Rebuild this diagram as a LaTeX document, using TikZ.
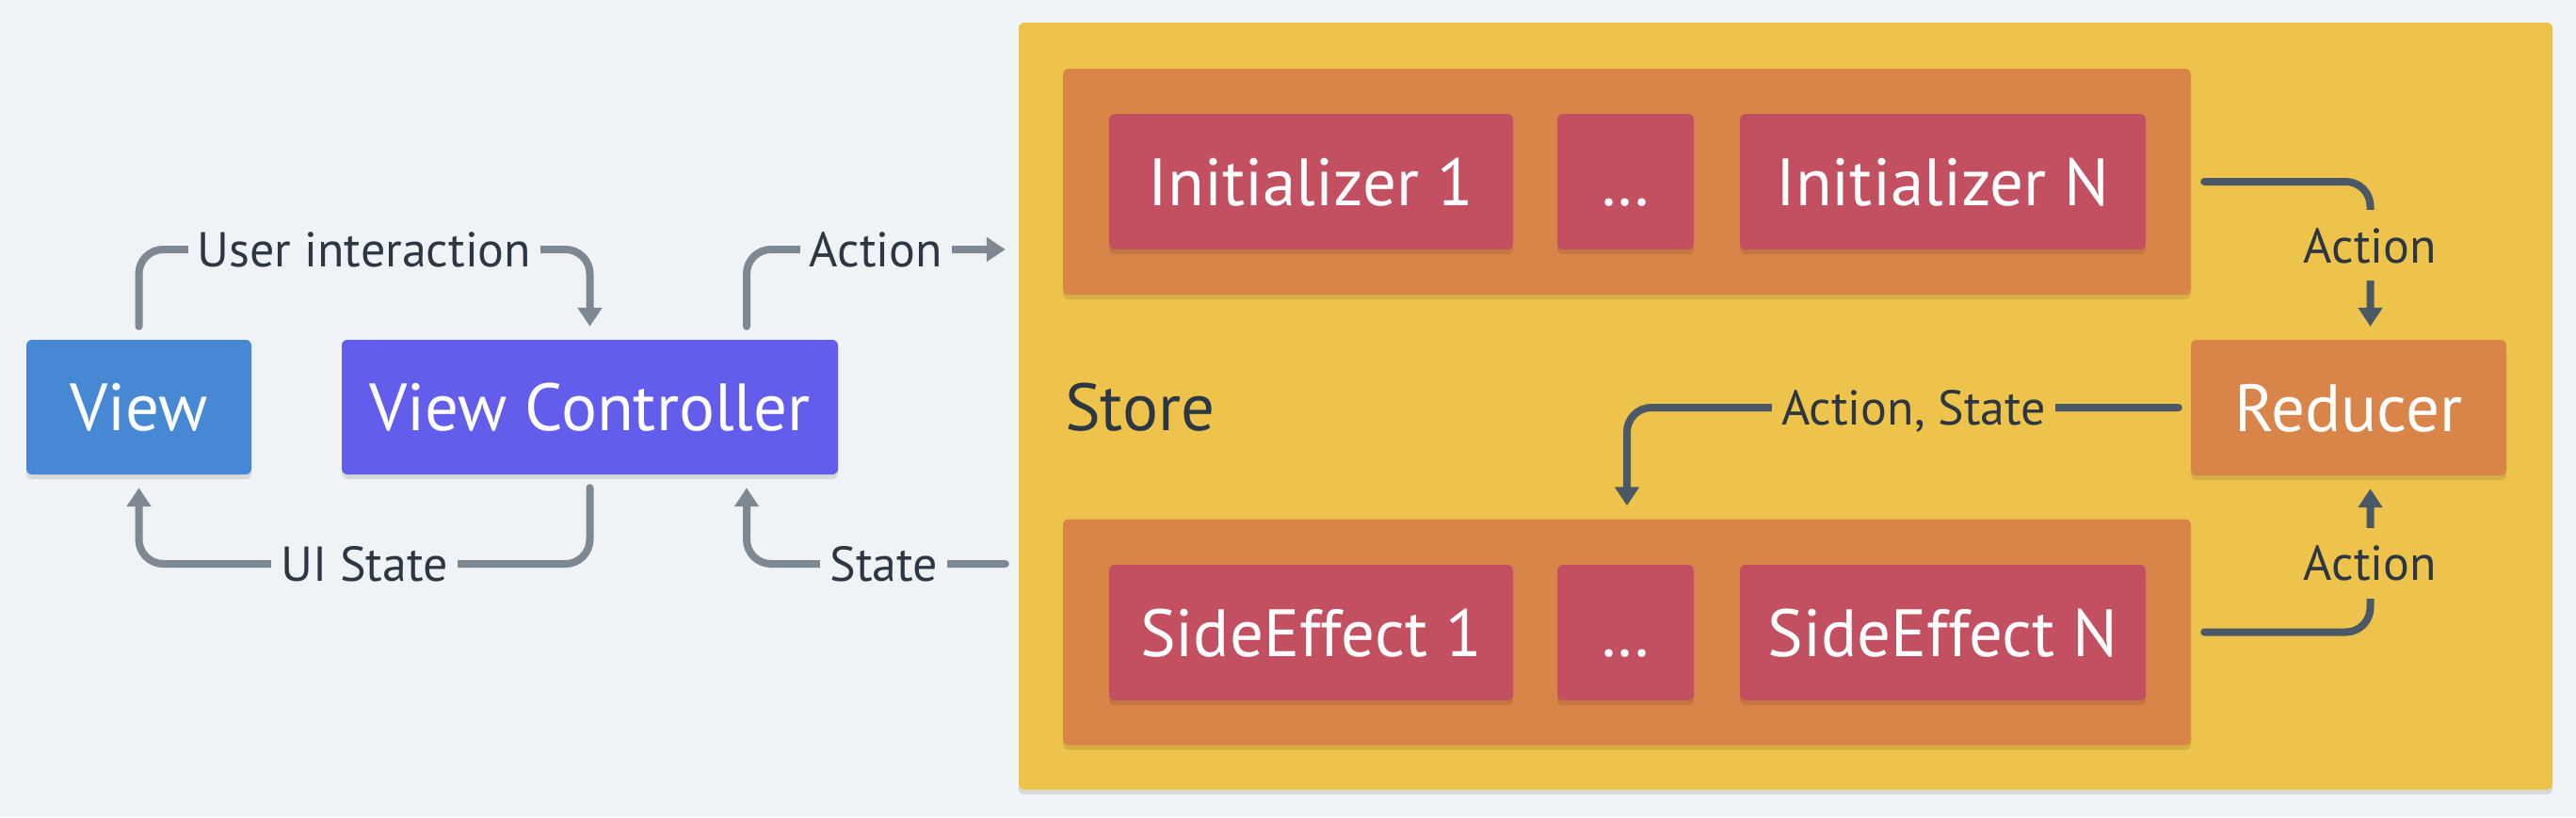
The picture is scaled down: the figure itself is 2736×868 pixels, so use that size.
\documentclass[tikz,border=0pt]{standalone}
\usepackage{fontspec}
\setmainfont{PT Sans}
\usetikzlibrary{arrows.meta,shadows,calc}
\definecolor{bg}{HTML}{EFF3F6}
\definecolor{viewblue}{HTML}{4688D4}
\definecolor{vcpurple}{HTML}{625DEB}
\definecolor{storeyellow}{HTML}{EEC34C}
\definecolor{grporange}{HTML}{D9854A}
\definecolor{boxred}{HTML}{C25060}
\definecolor{arrowgray}{HTML}{7E8893}
\definecolor{arrowdark}{HTML}{4B5966}
\definecolor{textdark}{HTML}{2D3743}
\begin{document}
\begin{tikzpicture}[x=1pt,y=-1pt,
  softshadow/.style={drop shadow={shadow xshift=0pt, shadow yshift=-5pt, opacity=0.10, fill=black}},
  box/.style={rounded corners=6pt, inner sep=0pt, text=white, softshadow,
    text height=50pt, text depth=0pt,
    font=\fontsize{71}{80}\selectfont},
  lbl/.style={font=\fontsize{52}{60}\selectfont, text=textdark, fill=bg,
    inner xsep=10pt, inner ysep=6pt, text height=37pt, text depth=0pt, rounded corners=0pt},
  lbly/.style={lbl, fill=storeyellow},
  vlbl/.style={lbl, fill=storeyellow, inner ysep=19pt},
  arrout/.style={draw=arrowgray, line width=8pt, line cap=round, rounded corners=26pt},
  arrin/.style={draw=arrowdark, line width=8pt, line cap=round, rounded corners=26pt},
  tip/.style={-{Triangle[length=20pt,width=25pt]}}
]
\fill[bg] (0,0) rectangle (2736,868);
\useasboundingbox (0,0) rectangle (2736,868);

% store
\node[box, fill=storeyellow, minimum width=1629pt, minimum height=815pt] (store) at (1896.5,431.5) {};
\node[box, fill=grporange, minimum width=1198pt, minimum height=240pt] (initgrp) at (1728,193) {};
\node[box, fill=grporange, minimum width=1198pt, minimum height=240pt] (segrp) at (1728,671.5) {};

\node[box, fill=boxred, minimum width=429pt, minimum height=144pt] (init1) at (1392.5,193) {Initializer 1};
\node[box, fill=boxred, minimum width=145pt, minimum height=144pt] (initdots) at (1726.5,193) {.\kern2pt.\kern2pt.};
\node[box, fill=boxred, minimum width=431pt, minimum height=144pt] (initN) at (2063.5,193) {Initializer N};

\node[box, fill=boxred, minimum width=429pt, minimum height=144pt] (se1) at (1392.5,672) {SideEffect 1};
\node[box, fill=boxred, minimum width=145pt, minimum height=144pt] (sedots) at (1726.5,672) {.\kern2pt.\kern2pt.};
\node[box, fill=boxred, minimum width=431pt, minimum height=144pt] (seN) at (2063.5,672) {SideEffect N};

\node[box, fill=grporange, minimum width=335pt, minimum height=144pt] (reducer) at (2494.5,433) {Reducer};
\node[anchor=west, inner sep=0pt, text=textdark, font=\fontsize{71}{80}\selectfont] (storelbl) at (1131,433) {Store};

% left
\node[box, fill=viewblue, minimum width=239pt, minimum height=143pt] (view) at (147.5,432.5) {View};
\node[box, fill=vcpurple, minimum width=527pt, minimum height=143pt] (vc) at (626.5,432.5) {View Controller};

\coordinate (toprow) at (0,265);
\coordinate (botrow) at (0,599);
\coordinate (vcr) at ([xshift=166.5pt]vc.north);
\coordinate (sw) at ([xshift=-14pt]store.west);
\coordinate (rn) at ([xshift=23pt,yshift=14pt]reducer.north);
\coordinate (rs) at ([xshift=23pt,yshift=-14pt]reducer.south);

% connectors outside
\draw[arrout,tip] ([yshift=14pt]view.north) -- (view.north |- toprow)
  -- node[lbl]{User interaction} (vc.north |- toprow) -- ([yshift=14pt]vc.north);
\draw[arrout,tip] ([yshift=14pt]vcr) -- (vcr |- toprow)
  -- node[lbl]{Action} (sw |- toprow);
\draw[arrout,tip] ([yshift=-14pt]vc.south) -- (vc.south |- botrow)
  -- node[lbl]{UI State} (view.south |- botrow) -- ([yshift=-14pt]view.south);
\draw[arrout,tip] (sw |- botrow) -- node[lbl, pos=0.47]{State} (vcr |- botrow)
  -- ([yshift=-14pt]vcr |- vc.south);

% connectors inside
\draw[arrin,tip] ([xshift=14pt]initgrp.east) -- (rn |- initgrp.east)
  -- node[vlbl, pos=0.44]{Action} (rn);
\draw[arrin,tip] ([xshift=14pt]segrp.east) -- (rs |- segrp.east)
  -- node[vlbl, pos=0.48]{Action} (rs);
\draw[arrin,tip] ([xshift=-13pt]reducer.west) -- node[lbly, pos=0.48]{Action, State} (segrp.north |- reducer.west)
  -- ([yshift=14pt]segrp.north);
\end{tikzpicture}
\end{document}
